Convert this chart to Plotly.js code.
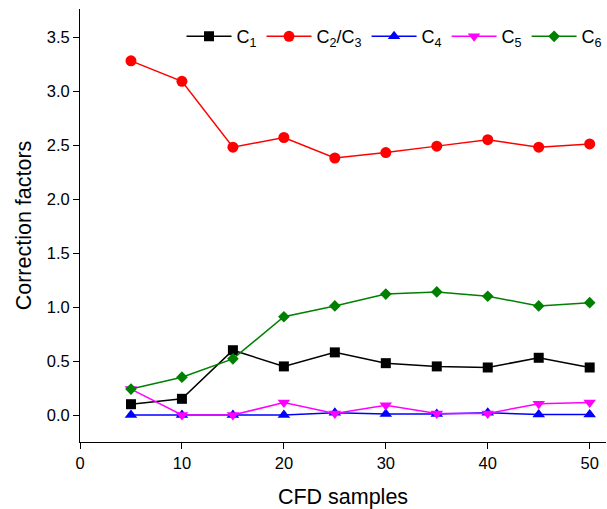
<!DOCTYPE html>
<html><head><meta charset="utf-8">
<script src="https://cdn.plot.ly/plotly-3.0.1.min.js"></script>
<style>html,body{margin:0;padding:0;background:#fff}#chart{width:607px;height:509px}</style>
</head><body><div id="chart"></div>
<script>
const samples = [5, 10, 15, 20, 25, 30, 35, 40, 45, 50];
const c1 = [0.10, 0.15, 0.60, 0.45, 0.58, 0.48, 0.45, 0.44, 0.53, 0.44];
const c23 = [3.28, 3.09, 2.48, 2.57, 2.38, 2.43, 2.49, 2.55, 2.48, 2.51];
const c4 = [0.00, 0.00, 0.00, 0.00, 0.02, 0.01, 0.01, 0.02, 0.005, 0.005];
const c5 = [0.24, 0.00, 0.00, 0.115, 0.015, 0.09, 0.015, 0.015, 0.105, 0.115];
const c6 = [0.24, 0.35, 0.52, 0.91, 1.01, 1.12, 1.14, 1.10, 1.01, 1.04];
const names = ['C<sub>1</sub>', 'C<sub>2</sub>/C<sub>3</sub>', 'C<sub>4</sub>', 'C<sub>5</sub>', 'C<sub>6</sub>'];
const colors = ['#000000', '#ff0000', '#0000ff', '#ff00ff', '#008000'];
const symbols = ['square', 'circle', 'triangle-up', 'triangle-down', 'diamond'];
const sizes = [10, 11, 11, 11, 9];
const series = [c1, c23, c4, c5, c6];

const traces = series.map((ys, i) => ({
  x: samples, y: ys, name: names[i], type: 'scatter', mode: 'lines+markers',
  line: {color: colors[i], width: 1.5},
  marker: {color: colors[i], symbol: symbols[i], size: sizes[i]}
}));

const layout = {
  width: 607, height: 509,
  margin: {l: 80, r: 1, t: 9, b: 67, autoexpand: false},
  paper_bgcolor: '#fff', plot_bgcolor: '#fff',
  font: {family: 'Liberation Sans, Arial, sans-serif', color: '#000', size: 16.5},
  showlegend: true,
  legend: {orientation: 'h', x: 0.193, y: 0.979, xanchor: 'left', yanchor: 'top',
           bgcolor: 'rgba(0,0,0,0)', font: {size: 18}, itemwidth: 45, tracegroupgap: 0},
  xaxis: {range: [0, 51.6], tickvals: [0, 10, 20, 30, 40, 50], showline: true, linecolor: '#000', linewidth: 1,
          ticks: 'outside', ticklen: 6, tickcolor: '#000', showgrid: false, zeroline: false,
          tickfont: {size: 16.5},
          title: {text: 'CFD samples', font: {size: 21.5}, standoff: 19}},
  yaxis: {range: [-0.25, 3.76], tickvals: [0, 0.5, 1, 1.5, 2, 2.5, 3, 3.5], tickformat: '.1f',
          showline: true, linecolor: '#000', linewidth: 1,
          ticks: 'outside', ticklen: 6, tickcolor: '#000', showgrid: false, zeroline: false,
          tickfont: {size: 16.5},
          title: {text: 'Correction factors', font: {size: 21.5}, standoff: 9}}
};
Plotly.newPlot('chart', traces, layout, {displayModeBar: false});
</script></body></html>
